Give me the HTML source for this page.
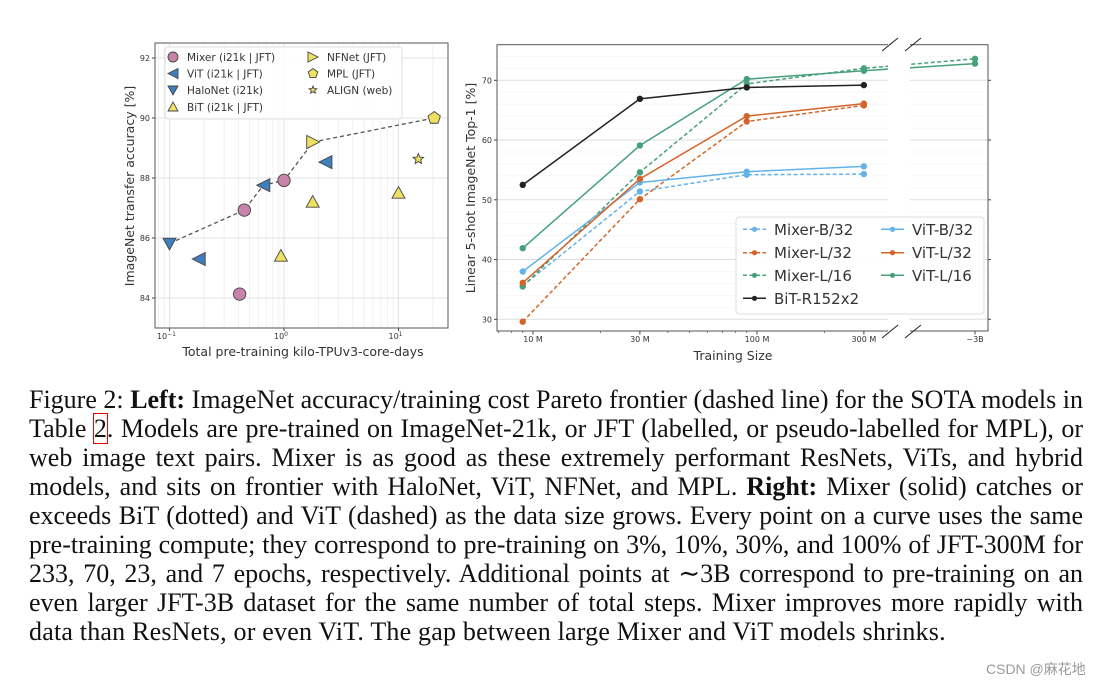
<!DOCTYPE html>
<html><head><meta charset="utf-8">
<style>
html,body{margin:0;padding:0;background:#fff;}
body{width:1103px;height:682px;position:relative;overflow:hidden;}
svg{position:absolute;left:0;top:0;}
svg text{font-family:"DejaVu Sans","Liberation Sans",sans-serif;fill:#333;}
.cap{position:absolute;left:29px;width:1054px;top:385px;font-family:"Liberation Serif",serif;font-size:26px;color:#111;line-height:29px;}
.ln{text-align:justify;text-align-last:justify;white-space:nowrap;height:29px;display:block;}
.box{outline:1.5px solid #e00;outline-offset:0px;}
.wm{position:absolute;left:986px;top:659px;font-family:"Liberation Sans","Noto Sans CJK SC",sans-serif;font-size:14px;color:#999;}
</style></head><body>
<svg id="chart" width="1103" height="682" viewBox="0 0 1103 682"></svg>

<div class="cap">
<div class="ln">Figure 2: <b>Left:</b> ImageNet accuracy/training cost Pareto frontier (dashed line) for the SOTA models in</div>
<div class="ln">Table <span class="box">2</span>. Models are pre-trained on ImageNet-21k, or JFT (labelled, or pseudo-labelled for MPL), or</div>
<div class="ln">web image text pairs. Mixer is as good as these extremely performant ResNets, ViTs, and hybrid</div>
<div class="ln">models, and sits on frontier with HaloNet, ViT, NFNet, and MPL. <b>Right:</b> Mixer (solid) catches or</div>
<div class="ln">exceeds BiT (dotted) and ViT (dashed) as the data size grows. Every point on a curve uses the same</div>
<div class="ln">pre-training compute; they correspond to pre-training on 3%, 10%, 30%, and 100% of JFT-300M for</div>
<div class="ln">233, 70, 23, and 7 epochs, respectively. Additional points at ∼3B correspond to pre-training on an</div>
<div class="ln">even larger JFT-3B dataset for the same number of total steps. Mixer improves more rapidly with</div>
<div class="ln" style="text-align-last:left;letter-spacing:0.2px">data than ResNets, or even ViT. The gap between large Mixer and ViT models shrinks.</div>
</div>
<div class="wm">CSDN @麻花地</div>

<script>
// ---------- LEFT CHART DATA ----------
const mixerX=[0.41,0.45,1.0];
const mixerY=[84.13,86.93,87.92];
const vitX=[0.18,0.66,2.3];
const vitY=[85.3,87.76,88.53];
const haloX=[0.1];
const haloY=[85.82];
const bitX=[0.94,1.78,10];
const bitY=[85.4,87.2,87.5];
const nfnetX=[1.8];
const nfnetY=[89.2];
const mplX=[20.5];
const mplY=[90.0];
const alignX=[14.9];
const alignY=[88.63];
const paretoX=[0.1,0.45,0.66,1.0,1.8,20.5];
const paretoY=[85.82,86.93,87.76,87.92,89.2,90.0];
const leftYTicks=[84,86,88,90,92];
const leftXTicks=[0.1,1,10];
const leftXTickLabels=["10","10","10"];
const leftXTickExp=["−1","0","1"];

// ---------- RIGHT CHART DATA ----------
const sizesM=[9,30,90,300];
const sizeTicks=[10,30,100,300];
const sizeTickLabels=["10 M","30 M","100 M","300 M"];
const mixerB32=[35.6,51.4,54.2,54.3];
const mixerL32=[29.6,50.1,63.1,65.8];
const mixerL16=[35.5,54.6,69.4,72.0];
const vitB32=[38.0,52.9,54.7,55.6];
const vitL32=[36.1,53.5,64.0,66.1];
const vitL16=[41.9,59.1,70.2,71.6];
const bitR152=[52.5,66.9,68.8,69.2];
const mixerL16_3B=[73.6];
const vitL16_3B=[72.8];
const rightYTicks=[30,40,50,60,70];

const svg=document.getElementById('chart');
const NS='http://www.w3.org/2000/svg';
function mk(tag,attrs,parent){const e=document.createElementNS(NS,tag);for(const k in attrs)e.setAttribute(k,attrs[k]);(parent||svg).appendChild(e);return e;}

// ===== LEFT =====
const L={x0:155,x1:448,y0:43,y1:328};
const xL=v=>284+114.5*Math.log10(v);
const yL=v=>298-(v-84)*30;
const gL=mk('g',{});


for(let d=-2;d<=1;d++){for(let m=1;m<10;m++){const v=m*Math.pow(10,d);const x=xL(v);if(x<L.x0||x>L.x1)continue;
 const ln=mk('line',{x1:x,x2:x,y1:L.y0,y2:L.y1,stroke:m==1?'#ddd':'#eee','stroke-width':0.8},gL);
 
 }}
leftYTicks.forEach(v=>{const y=yL(v);
 const ln=mk('line',{x1:L.x0,x2:L.x1,y1:y,y2:y,stroke:'#ddd','stroke-width':0.8},gL);
 
 
 mk('line',{x1:L.x0-3,x2:L.x0,y1:y,y2:y,stroke:'#444'},gL);
 const t=mk('text',{x:L.x0-5,y:y+3,'font-size':8,'text-anchor':'end'},gL);t.textContent=v;
 
 });
leftXTicks.forEach((v,i)=>{const x=xL(v);
 mk('line',{x1:x,x2:x,y1:L.y1,y2:L.y1+3,stroke:'#444'},gL);
 const t=mk('text',{x:x-3,y:L.y1+11,'font-size':8,'text-anchor':'middle'},gL);
 t.textContent=leftXTickLabels[i];
 const s=mk('tspan',{dy:-3,'font-size':6},t);s.textContent=leftXTickExp[i];
 
 });
const fr=mk('rect',{x:L.x0,y:L.y0,width:L.x1-L.x0,height:L.y1-L.y0,fill:'none',stroke:'#555','stroke-width':1},gL);


const pp=mk('polyline',{points:paretoX.map((v,i)=>xL(v)+','+yL(paretoY[i])).join(' '),fill:'none',stroke:'#555','stroke-width':1.3,'stroke-dasharray':'4,3'},gL);


const PINK='#c883aa',BLUE='#3f7fbd',YEL='#eee060',EDGE='#444';
function marker(type,x,y,fill,s,parent,name){
 let e;
 if(type==='circle')e=mk('circle',{cx:x,cy:y,r:s},parent);
 else{let pts;
  if(type==='left')pts=[[-s,0],[s,-s],[s,s]];
  else if(type==='right')pts=[[s,0],[-s,-s],[-s,s]];
  else if(type==='down')pts=[[-s,-s*0.8],[s,-s*0.8],[0,s]];
  else if(type==='up')pts=[[-s,s*0.8],[s,s*0.8],[0,-s]];
  else if(type==='pent'){pts=[];for(let k=0;k<5;k++){const a=-Math.PI/2+k*2*Math.PI/5;pts.push([s*Math.cos(a),s*Math.sin(a)]);}}
  else if(type==='star'){pts=[];for(let k=0;k<10;k++){const a=-Math.PI/2+k*Math.PI/5;const r=k%2?s*0.45:s;pts.push([r*Math.cos(a),r*Math.sin(a)]);}}
  e=mk('polygon',{points:pts.map(p=>(x+p[0])+','+(y+p[1])).join(' ')},parent);}
 e.setAttribute('fill',fill);e.setAttribute('stroke',EDGE);e.setAttribute('stroke-width',0.9);
 
 
 return e;}
mixerX.forEach((v,i)=>marker('circle',xL(v),yL(mixerY[i]),PINK,6.2,gL,'mixer-point'));
vitX.forEach((v,i)=>marker('left',xL(v),yL(vitY[i]),BLUE,6.5,gL,'vit-point'));
haloX.forEach((v,i)=>marker('down',xL(v),yL(haloY[i]),BLUE,6.5,gL,'halonet-point'));
bitX.forEach((v,i)=>marker('up',xL(v),yL(bitY[i]),YEL,6.5,gL,'bit-point'));
nfnetX.forEach((v,i)=>marker('right',xL(v),yL(nfnetY[i]),YEL,6.5,gL,'nfnet-point'));
mplX.forEach((v,i)=>marker('pent',xL(v),yL(mplY[i]),YEL,6.5,gL,'mpl-point'));
alignX.forEach((v,i)=>marker('star',xL(v),yL(alignY[i]),YEL,5.5,gL,'align-point'));
const lg=mk('g',{},gL);


mk('rect',{x:165,y:47,width:237,height:72,rx:3,fill:'#fff','fill-opacity':0.85,stroke:'#ddd'},lg);
const legL=[['circle',PINK,'Mixer (i21k | JFT)',173,57],['left',BLUE,'ViT (i21k | JFT)',173,73.5],['down',BLUE,'HaloNet (i21k)',173,90],['up',YEL,'BiT (i21k | JFT)',173,107],
 ['right',YEL,'NFNet (JFT)',313,57],['pent',YEL,'MPL (JFT)',313,73.5],['star',YEL,'ALIGN (web)',313,90]];
legL.forEach(r=>{marker(r[0],r[3],r[4],r[1],r[0]==='star'?4:5,lg,'legend-marker');
 const t=mk('text',{x:r[3]+14,y:r[4]+4,'font-size':10.5},lg);t.textContent=r[2];
 
 });
let t=mk('text',{x:303,y:356,'font-size':12.5,'text-anchor':'middle'},gL);t.textContent='Total pre-training kilo-TPUv3-core-days';


t=mk('text',{x:0,y:0,'font-size':12.5,'text-anchor':'middle',transform:'translate(134,186) rotate(-90)'},gL);t.textContent='ImageNet transfer accuracy [%]';



// ===== RIGHT =====
const R={x0:497,x1:988,y0:44.7,y1:331};
const xR=m=>533+224*Math.log10(m/10);
const X3B=975, BREAK0=888, BREAK1=910;
const yR=v=>319.3-(v-30)*5.975;
const gR=mk('g',{});


for(let v=28;v<=76;v+=2){const y=yR(v);if(y<R.y0||y>R.y1)continue;const major=v%10===0;
 const ln=mk('line',{x1:R.x0,x2:R.x1,y1:y,y2:y,stroke:major?'#ddd':'#eee','stroke-width':major?1:0.8,'stroke-dasharray':major?'':'2,2'},gR);
 
 }
rightYTicks.forEach(v=>{const y=yR(v);
 mk('line',{x1:R.x0-3,x2:R.x0,y1:y,y2:y,stroke:'#444'},gR);
 mk('line',{x1:R.x1,x2:R.x1+3,y1:y,y2:y,stroke:'#444'},gR);
 const tt=mk('text',{x:R.x0-5,y:y+3,'font-size':8,'text-anchor':'end'},gR);tt.textContent=v;
 
 });
for(let m=5;m<=400;m+=(m<10?1:m<100?10:100)){const x=xR(m);if(x<R.x0||x>BREAK0)continue;mk('line',{x1:x,x2:x,y1:R.y1,y2:R.y1+2,stroke:'#444','stroke-width':0.7},gR);}
sizeTicks.forEach((m,i)=>{const x=xR(m);
 mk('line',{x1:x,x2:x,y1:R.y1,y2:R.y1+3.5,stroke:'#444'},gR);
 const tt=mk('text',{x:x,y:R.y1+11,'font-size':8,'text-anchor':'middle'},gR);tt.textContent=sizeTickLabels[i];
 
 });
mk('line',{x1:X3B,x2:X3B,y1:R.y1,y2:R.y1+3.5,stroke:'#444'},gR);
t=mk('text',{x:X3B,y:R.y1+11,'font-size':8,'text-anchor':'middle'},gR);t.textContent='~3B';



const LB='#63b3e8',OR='#d4652a',GR='#46a07a',BK='#222';
function series(vals,color,dash,name,extra){
 const pts=sizesM.map((m,i)=>[xR(m),yR(vals[i])]);
 if(extra)pts.push([X3B,yR(extra[0])]);
 const pl=mk('polyline',{points:pts.map(p=>p.join(',')).join(' '),fill:'none',stroke:color,'stroke-width':1.5,'stroke-dasharray':dash?'4,2.5':''},gR);
 
 
 pts.forEach(p=>{const c=mk('circle',{cx:p[0],cy:p[1],r:3.2,fill:color},gR);
  
  });}
series(mixerB32,LB,true,'mixer-b32');
series(mixerL32,OR,true,'mixer-l32');
series(mixerL16,GR,true,'mixer-l16',mixerL16_3B);
series(vitB32,LB,false,'vit-b32');
series(vitL32,OR,false,'vit-l32');
series(vitL16,GR,false,'vit-l16',vitL16_3B);
series(bitR152,BK,false,'bit-r152x2');
const rf=mk('rect',{x:R.x0,y:R.y0,width:R.x1-R.x0,height:R.y1-R.y0,fill:'none',stroke:'#555','stroke-width':1},gR);


const br=mk('rect',{x:BREAK0,y:R.y0-2,width:BREAK1-BREAK0,height:R.y1-R.y0+4,fill:'#fff'},gR);


[[882,51,898,38],[905,51,921,38],[882,338,898,325],[905,338,921,325]].forEach(s=>{
 const l=mk('line',{x1:s[0],y1:s[1],x2:s[2],y2:s[3],stroke:'#222','stroke-width':1},gR);
 
 });
const rg=mk('g',{},gR);


mk('rect',{x:736,y:217,width:248,height:97,rx:3,fill:'#fff','fill-opacity':0.9,stroke:'#ddd'},rg);
const legR=[[LB,true,'Mixer-B/32',743,229.3],[OR,true,'Mixer-L/32',743,252.7],[GR,true,'Mixer-L/16',743,275.3],[BK,false,'BiT-R152x2',743,298.3],
 [LB,false,'ViT-B/32',881,229.3],[OR,false,'ViT-L/32',881,252.7],[GR,false,'ViT-L/16',881,275.3]];
legR.forEach(r=>{mk('line',{x1:r[3],x2:r[3]+23,y1:r[4],y2:r[4],stroke:r[0],'stroke-width':1.5,'stroke-dasharray':r[1]?'4,2.5':''},rg);
 mk('circle',{cx:r[3]+11.5,cy:r[4],r:2.6,fill:r[0]},rg);
 const tt=mk('text',{x:r[3]+31,y:r[4]+5.5,'font-size':15},rg);tt.textContent=r[2];
 
 });
t=mk('text',{x:733,y:360,'font-size':12.5,'text-anchor':'middle'},gR);t.textContent='Training Size';


t=mk('text',{x:0,y:0,'font-size':12.5,'text-anchor':'middle',transform:'translate(475,188) rotate(-90)'},gR);t.textContent='Linear 5-shot ImageNet Top-1 [%]';


</script>
</body></html>
